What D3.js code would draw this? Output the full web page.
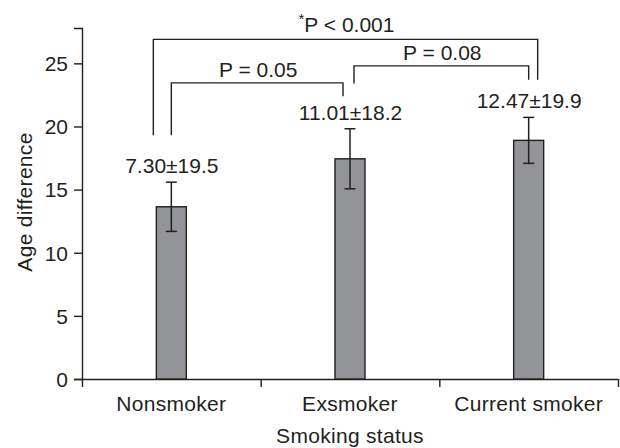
<!DOCTYPE html>
<html>
<head>
<meta charset="utf-8">
<script src="https://cdn.jsdelivr.net/npm/d3@7"></script>
<style>
  html, body { margin: 0; padding: 0; background: #fff; }
  svg text { font-family: "Liberation Sans", Arial, Helvetica, sans-serif; fill: #231f20; }
</style>
</head>
<body>
<svg id="chart" width="620" height="448"></svg>
<script>
// ---- data ----
const categories = ["Nonsmoker", "Exsmoker", "Current smoker"];
const means = [13.64, 17.44, 18.9];
const errors = [1.95, 2.38, 1.82];
const valueLabels = ["7.30\u00B119.5", "11.01\u00B118.2", "12.47\u00B119.9"];
const yTicks = [0, 5, 10, 15, 20, 25];
const yMax = 27.8;
const xTitle = "Smoking status";
const yTitle = "Age difference";
// significance brackets (y levels in data units)
const bracketFrom = ["Nonsmoker", "Nonsmoker", "Exsmoker"];
const bracketTo = ["Current smoker", "Exsmoker", "Current smoker"];
const bracketLevel = [26.9, 23.45, 24.8];
const bracketFromEnd = [19.3, 19.3, 23.4];
const bracketToEnd = [23.7, 22.4, 23.7];
const bracketLabel = ["P < 0.001", "P = 0.05", "P = 0.08"];
const bracketStar = [true, false, false];

(function () {
// ---- layout ----
const svg = d3.select("#chart");
const ink = "#231f20";
const mLeft = 82, mRight = 618, mTop = 28, mBottom = 379;
const fs = 21;

const x = d3.scaleBand().domain(categories).range([mLeft, mRight]).padding(0);
const y = d3.scaleLinear().domain([0, yMax]).range([mBottom, mTop]);
const cx = c => x(c) + x.bandwidth() / 2;

// y axis
const yAxis = d3.axisLeft(y).tickValues(yTicks).tickSize(8).tickSizeOuter(8).tickPadding(6);
const gy = svg.append("g").attr("transform", `translate(${mLeft},0)`).call(yAxis);
gy.selectAll("path, line").attr("stroke", ink).attr("stroke-width", 1.4);
gy.selectAll("text").attr("font-size", fs).attr("fill", ink).attr("dy", "0.35em")
  .style("font-family", '"Liberation Sans", Arial, sans-serif');

// x axis (ticks at band boundaries)
const gx = svg.append("g");
gx.append("line").attr("x1", mLeft).attr("x2", mRight).attr("y1", mBottom + 0.5).attr("y2", mBottom + 0.5)
  .attr("stroke", ink).attr("stroke-width", 1.4);
const bounds = categories.map(c => x(c)).concat([x(categories[categories.length - 1]) + x.bandwidth()]);
gx.selectAll("line.tk").data(bounds).join("line").attr("class", "tk")
  .attr("x1", d => d + 0.5).attr("x2", d => d + 0.5)
  .attr("y1", mBottom).attr("y2", mBottom + 8)
  .attr("stroke", ink).attr("stroke-width", 1.4);
gx.selectAll("text").data(categories).join("text")
  .attr("x", d => cx(d)).attr("y", mBottom + 31.5)
  .attr("text-anchor", "middle").attr("font-size", fs).attr("letter-spacing", 0.3)
  .text(d => d);

// bars
const barW = 30;
svg.append("g").selectAll("rect").data(categories).join("rect")
  .attr("x", d => cx(d) - barW / 2)
  .attr("width", barW)
  .attr("y", (d, i) => y(means[i]))
  .attr("height", (d, i) => y(0) - y(means[i]))
  .attr("fill", "#929497").attr("stroke", ink).attr("stroke-width", 1.4);

// error bars
const eg = svg.append("g").attr("stroke", ink).attr("stroke-width", 1.5);
categories.forEach((c, i) => {
  const xc = cx(c);
  const y1 = y(means[i] + errors[i]), y0 = y(means[i] - errors[i]);
  eg.append("line").attr("x1", xc).attr("x2", xc).attr("y1", y1).attr("y2", y0);
  eg.append("line").attr("x1", xc - 5.5).attr("x2", xc + 5.5).attr("y1", y1).attr("y2", y1);
  eg.append("line").attr("x1", xc - 5.5).attr("x2", xc + 5.5).attr("y1", y0).attr("y2", y0);
});

// value labels
svg.append("g").selectAll("text").data(categories).join("text")
  .attr("x", d => cx(d) + 0.5)
  .attr("y", (d, i) => y(means[i] + errors[i]) - 9)
  .attr("text-anchor", "middle").attr("font-size", fs)
  .text((d, i) => valueLabels[i]);

// brackets
const fromOff = [-18, 0, 4];
const toOff = [9, -7, 0];
const bg = svg.append("g");
bracketLabel.forEach((lab, i) => {
  const xa = cx(bracketFrom[i]) + fromOff[i];
  const xb = cx(bracketTo[i]) + toOff[i];
  const yl = y(bracketLevel[i]);
  bg.append("path")
    .attr("d", `M${xa},${y(bracketFromEnd[i])}V${yl}H${xb}V${y(bracketToEnd[i])}`)
    .attr("fill", "none").attr("stroke", ink).attr("stroke-width", 1.4);
  const t = bg.append("text")
    .attr("x", (xa + xb) / 2 + 1).attr("y", yl - (bracketStar[i] ? 7.3 : 5.8))
    .attr("text-anchor", "middle").attr("font-size", fs);
  if (bracketStar[i]) {
    t.append("tspan").attr("font-size", 15).attr("dy", -8).text("*");
    t.append("tspan").attr("dy", 8).text(lab);
  } else {
    t.text(lab);
  }
});

// axis titles
svg.append("text").attr("x", cx(categories[1])).attr("y", 443)
  .attr("text-anchor", "middle").attr("font-size", fs).attr("letter-spacing", 0.3).text(xTitle);
svg.append("text").attr("transform", "translate(31.5,202) rotate(-90)")
  .attr("text-anchor", "middle").attr("font-size", fs).attr("letter-spacing", 0.3).text(yTitle);
})();
</script>
</body>
</html>
